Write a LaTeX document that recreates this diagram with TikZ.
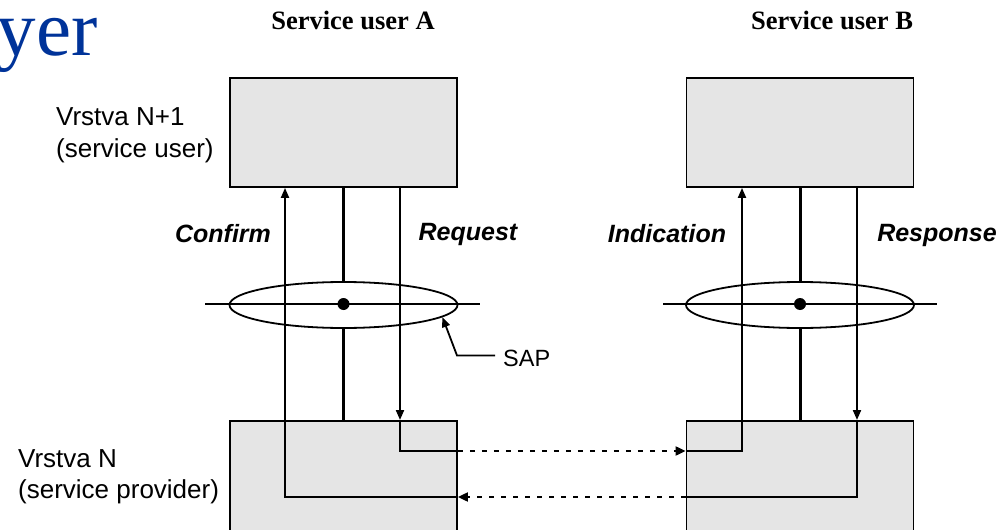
\documentclass[tikz,border=0pt]{standalone}
\usepackage{fontspec}
\setmainfont{Liberation Serif}
\setsansfont{Liberation Sans}
\usetikzlibrary{shapes.geometric,arrows.meta}
\definecolor{titleblue}{RGB}{0,51,153}
\definecolor{boxgray}{RGB}{229,229,229}
\tikzset{
  layerbox/.style={draw=black, fill=boxgray, line width=1.8pt, inner sep=0pt,
                   minimum width=227pt, minimum height=109pt},
  lowbox/.style={layerbox, minimum height=140pt},
  sapring/.style={draw=black, ellipse, line width=1.8pt, inner sep=0pt,
                  minimum width=228pt, minimum height=46pt},
  sapdot/.style={circle, fill=black, inner sep=0pt, minimum size=12pt},
  flow/.style={line width=2pt},
  flowarrow/.style={flow, -{Triangle[length=10pt,width=8pt]}},
  spine/.style={line width=3pt},
  axis/.style={line width=1.8pt},
  peer/.style={line width=2pt, dash pattern=on 5pt off 7pt,
               -{Triangle[length=10pt,width=9pt]}},
  lbl/.style={font=\sffamily\fontsize{26}{31}\selectfont, inner sep=0pt},
  prim/.style={font=\sffamily\bfseries\itshape\fontsize{25}{29}\selectfont, inner sep=0pt},
  head/.style={font=\rmfamily\bfseries\fontsize{26.5}{30}\selectfont, inner sep=0pt}
}
\begin{document}
\begin{tikzpicture}[x=1pt,y=-1pt]
\clip (0,0) rectangle (1002,530);
\useasboundingbox (0,0) rectangle (1002,530);

% heading fragment
\node[anchor=base east, inner sep=0pt, text=titleblue,
      font=\rmfamily\fontsize{79}{84}\selectfont] (title) at (98,55) {yer};

% column headings
\node[head, anchor=base] (userA) at (353,30) {Service user A};
\node[head, anchor=base] (userB) at (832,30) {Service user B};

% layer boxes
\node[layerbox] (topA) at (343.5,132.5) {};
\node[layerbox] (topB) at (800,132.5) {};
\node[lowbox, anchor=north] (botA) at (343.5,420) {};
\node[lowbox, anchor=north] (botB) at (800,420) {};

% layer names
\node[lbl, anchor=base west] (nplusA) at (56,125) {Vrstva N+1};
\node[lbl, anchor=base west] (nplusB) at (56,157) {(service user)};
\node[lbl, anchor=base west] (nA) at (18,467) {Vrstva N};
\node[lbl, anchor=base west] (nB) at (18,498) {(service provider)};

% service access points
\coordinate (axA1) at (205,304);
\coordinate (axA2) at (480,304);
\coordinate (axB1) at (663,304);
\coordinate (axB2) at (937,304);
\draw[axis] (axA1) -- (axA2);
\draw[axis] (axB1) -- (axB2);
\node[sapring] (ellA) at (343.5,305) {};
\node[sapring] (ellB) at (800,305) {};
\node[sapdot] (dotA) at (343.5,304) {};
\node[sapdot] (dotB) at (800,304) {};

% central spines
\draw[spine] (topA.south) -- (ellA.north);
\draw[spine] (ellA.south) -- (botA.north);
\draw[spine] (topB.south) -- (ellB.north);
\draw[spine] (ellB.south) -- (botB.north);

% corner points of the primitive paths
\coordinate (cfm) at (285,497);
\coordinate (req) at (400,451);
\coordinate (ind) at (742,451);
\coordinate (rsp) at (857,497);

% request -> indication
\draw[flowarrow] (topA.south -| req) -- (botA.north -| req);
\draw[flow] (botA.north -| req) -- (req) -- (botA.east |- req);
\draw[peer] (botA.east |- req) -- (botB.west |- ind);
\draw[flowarrow] (botB.west |- ind) -- (ind) -- (topB.south -| ind);

% response -> confirm
\draw[flowarrow] (topB.south -| rsp) -- (botB.north -| rsp);
\draw[flow] (botB.north -| rsp) -- (rsp) -- (botB.west |- rsp);
\draw[peer] (botB.west |- rsp) -- (botA.east |- rsp);
\draw[flowarrow] (botA.east |- rsp) -- (cfm) -- (topA.south -| cfm);

% primitive names
\node[prim, anchor=base] (lConfirm) at (223,242) {Confirm};
\node[prim, anchor=base] (lRequest) at (468,240) {Request};
\node[prim, anchor=base] (lIndication) at (667,242) {Indication};
\node[prim, anchor=base] (lResponse) at (937,241) {Response};

% SAP callout
\node[font=\sffamily\fontsize{23.5}{27}\selectfont, inner sep=0pt, anchor=base west]
     (sap) at (503,366) {SAP};
\coordinate (sapbend) at (457,355.5);
\draw[line width=1.8pt, -{Triangle[length=10pt,width=8pt]}]
     (sap.west |- sapbend) ++(-8,0) -- (sapbend) -- (ellA.-7);
\end{tikzpicture}
\end{document}
